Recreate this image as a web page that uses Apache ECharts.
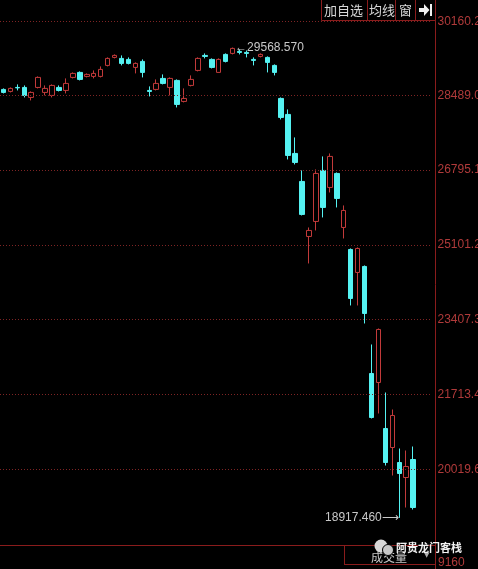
<!DOCTYPE html>
<html><head><meta charset="utf-8">
<script src="https://cdn.jsdelivr.net/npm/echarts@6/dist/echarts.min.js"></script>
<style>html,body{margin:0;padding:0;background:#000;}#c{width:478px;height:569px;}</style>
</head><body><div id="c"></div>
<script>
const dates = ['2019-12-24','2019-12-26','2019-12-27','2019-12-30','2019-12-31','2020-01-02','2020-01-03','2020-01-06','2020-01-07','2020-01-08',
 '2020-01-09','2020-01-10','2020-01-13','2020-01-14','2020-01-15','2020-01-16','2020-01-17','2020-01-21','2020-01-22','2020-01-23',
 '2020-01-24','2020-01-27','2020-01-28','2020-01-29','2020-01-30','2020-01-31','2020-02-03','2020-02-04','2020-02-05','2020-02-06',
 '2020-02-07','2020-02-10','2020-02-11','2020-02-12','2020-02-13','2020-02-14','2020-02-18','2020-02-19','2020-02-20','2020-02-21',
 '2020-02-24','2020-02-25','2020-02-26','2020-02-27','2020-02-28','2020-03-02','2020-03-03','2020-03-04','2020-03-05','2020-03-06',
 '2020-03-09','2020-03-10','2020-03-11','2020-03-12','2020-03-13','2020-03-16','2020-03-17','2020-03-18','2020-03-19','2020-03-20'];
const openV = [28620.0, 28574.7, 28665.3, 28665.3, 28438.8, 28665.3, 28552.1, 28484.1, 28665.3, 28597.4,
 28891.8, 29005.1, 28914.5, 28914.5, 28914.5, 29163.6, 29344.8, 29322.2, 29299.5, 29118.3,
 29254.2, 28597.4, 28620.0, 28869.2, 28665.3, 28823.9, 28348.2, 28710.6, 29050.4, 29390.1,
 29299.5, 29005.1, 29412.8, 29435.4, 29480.7, 29458.1, 29299.5, 29367.5, 29344.8, 29163.6,
 28416.2, 28053.8, 27170.4, 26536.3, 25290.5, 25630.2, 26785.4, 26400.4, 26717.4, 25494.3,
 24996.0, 24475.1, 24611.0, 22187.4, 21983.6, 20941.7, 20511.3, 20171.6, 19831.9, 20239.5];
const closeV = [28552.1, 28642.7, 28655.0, 28484.1, 28552.1, 28891.8, 28642.7, 28710.6, 28597.4, 28755.9,
 28982.4, 28846.5, 28959.8, 28982.4, 29073.0, 29322.2, 29390.1, 29208.9, 29208.9, 29208.9,
 29005.1, 28574.7, 28755.9, 28755.9, 28869.2, 28280.3, 28416.2, 28846.5, 29322.2, 29367.5,
 29118.3, 29299.5, 29254.2, 29548.7, 29458.1, 29435.4, 29276.9, 29412.8, 29231.6, 29005.1,
 27985.8, 27125.1, 26966.6, 25788.8, 25426.4, 26717.4, 25947.3, 27102.5, 26151.2, 25879.4,
 23886.2, 25018.7, 23546.4, 21190.8, 23184.0, 20171.6, 21236.1, 19922.5, 20081.0, 19152.3];
const lowV = [28529.4, 28552.1, 28597.4, 28438.8, 28370.9, 28642.7, 28484.1, 28438.8, 28574.7, 28529.4,
 28869.2, 28823.9, 28891.8, 28869.2, 28891.8, 29141.0, 29322.2, 29163.6, 29186.3, 28982.4,
 28891.8, 28461.5, 28597.4, 28733.3, 28484.1, 28212.3, 28325.6, 28688.0, 29027.7, 29322.2,
 29095.7, 29005.1, 29231.6, 29412.8, 29412.8, 29344.8, 29163.6, 29344.8, 29005.1, 28937.1,
 27940.5, 27034.5, 26921.3, 25766.0, 24678.9, 25426.4, 25720.8, 26287.1, 25947.3, 25245.2,
 23727.6, 23727.6, 23319.9, 21168.2, 21281.4, 20103.6, 19877.1, 18917.46, 19152.3, 19107.0];
const highV = [28642.7, 28665.3, 28733.3, 28710.6, 28574.7, 28914.5, 28710.6, 28733.3, 28710.6, 28869.2,
 29005.1, 29027.7, 28982.4, 29050.4, 29141.0, 29344.8, 29412.8, 29390.1, 29344.8, 29231.6,
 29299.5, 28688.0, 28846.5, 28959.8, 28891.8, 28846.5, 28642.7, 28937.1, 29344.8, 29435.4,
 29322.2, 29322.2, 29435.4, 29568.57, 29526.0, 29503.4, 29344.8, 29435.4, 29367.5, 29186.3,
 28438.8, 28167.0, 27532.8, 26785.4, 25494.3, 26808.1, 27102.5, 27170.4, 26740.0, 25992.6,
 25018.7, 25041.3, 24633.6, 22844.3, 23206.7, 21757.1, 21372.0, 20488.7, 20443.4, 20534.0];
const tickValues = [30160.2, 28489.0, 26795.1, 25101.2, 23407.3, 21713.4, 20019.6];
const tickLabels = ['30160.2','28489.0','26795.1','25101.2','23407.3','21713.4','20019.6'];
const volumeLabel = '9160';
const buttons = ['加自选', '均线', '窗'];

const candles = dates.map((d, i) => [openV[i], closeV[i], lowV[i], highV[i]]);
const cats = dates.concat([' ', '  ']);
const RED = '#c23a3a', CYAN = '#55f2f2', GRID = '#7e2424', AXIS = '#8a1c1c';
const FONT = 'Liberation Sans, Arial, sans-serif';

const chart = echarts.init(document.getElementById('c'), null, {renderer: 'canvas'});
chart.setOption({
  backgroundColor: '#000',
  animation: false,
  grid: {left: -2.49, right: 47.5, top: 0, bottom: 24},
  xAxis: {type: 'category', data: cats, boundaryGap: true,
    axisLine: {show: false}, axisTick: {show: false}, axisLabel: {show: false}, splitLine: {show: false}},
  yAxis: {type: 'value', min: 18303.5, max: 30645, position: 'right',
    axisLine: {show: false}, axisTick: {show: false}, axisLabel: {show: false}, splitLine: {show: false}},
  series: [{
    type: 'candlestick',
    data: candles,
    barWidth: 5,
    itemStyle: {color: '#000', color0: CYAN, borderColor: RED, borderColor0: CYAN, borderWidth: 1},
    markLine: {
      silent: true, symbol: ['none', 'none'], animation: false,
      lineStyle: {color: GRID, type: [1, 2], width: 1},
      label: {show: true, position: 'end', distance: 7, color: '#b03a3a', fontSize: 12, fontFamily: FONT},
      emphasis: {disabled: true},
      data: tickValues.map((v, k) => ({yAxis: v, label: {formatter: tickLabels[k]}}))
    },
    markPoint: {
      silent: true, symbol: 'circle', symbolSize: 1, itemStyle: {color: 'rgba(0,0,0,0)'},
      label: {show: true, color: '#c8c8c8', fontSize: 12, fontFamily: FONT},
      data: [
        {type: 'max', valueDim: 'highest', label: {position: 'right', distance: 2, formatter: p => '←' + p.value.toFixed(3)}},
        {type: 'min', valueDim: 'lowest', label: {position: 'left', distance: 0, formatter: p => p.value.toFixed(3) + '⟶'}}
      ]
    }
  }],
  graphic: [
    {type: 'line', shape: {x1: 435.5, y1: 0, x2: 435.5, y2: 569}, style: {stroke: AXIS, lineWidth: 1}, z: 10},
    {type: 'line', shape: {x1: 0, y1: 545.5, x2: 435, y2: 545.5}, style: {stroke: AXIS, lineWidth: 1}, z: 10},
    {type: 'line', shape: {x1: 344.5, y1: 545, x2: 344.5, y2: 565}, style: {stroke: AXIS, lineWidth: 1}, z: 10},
    {type: 'line', shape: {x1: 344, y1: 564.5, x2: 435, y2: 564.5}, style: {stroke: AXIS, lineWidth: 1}, z: 10},
    {type: 'rect', shape: {x: 321.5, y: -1, width: 114, height: 21.5}, style: {fill: '#000', stroke: AXIS, lineWidth: 1}, z: 10},
    {type: 'line', shape: {x1: 367.5, y1: 0, x2: 367.5, y2: 20}, style: {stroke: AXIS, lineWidth: 1}, z: 11},
    {type: 'line', shape: {x1: 395.5, y1: 0, x2: 395.5, y2: 20}, style: {stroke: AXIS, lineWidth: 1}, z: 11},
    {type: 'line', shape: {x1: 415.5, y1: 0, x2: 415.5, y2: 20}, style: {stroke: AXIS, lineWidth: 1}, z: 11},
    {type: 'text', x: 324, y: 10, style: {text: buttons[0], fill: '#d8d8d8', fontSize: 13, fontFamily: 'Noto Sans CJK SC', verticalAlign: 'middle'}, z: 12},
    {type: 'text', x: 369, y: 10, style: {text: buttons[1], fill: '#d8d8d8', fontSize: 13, fontFamily: 'Noto Sans CJK SC', verticalAlign: 'middle'}, z: 12},
    {type: 'text', x: 399, y: 10, style: {text: buttons[2], fill: '#d8d8d8', fontSize: 13, fontFamily: 'Noto Sans CJK SC', verticalAlign: 'middle'}, z: 12},
    {type: 'polygon', shape: {points: [[419, 8], [424, 8], [424, 4], [429.5, 10], [424, 16], [424, 12], [419, 12]]}, style: {fill: '#f0f0f0'}, z: 12},
    {type: 'rect', shape: {x: 430, y: 4, width: 2, height: 12}, style: {fill: '#f0f0f0'}, z: 12},
    {type: 'text', x: 438, y: 563, style: {text: volumeLabel, fill: '#b03a3a', fontSize: 12, fontFamily: FONT, verticalAlign: 'middle'}, z: 12},
    {type: 'text', x: 371, y: 557, style: {text: '成交量', fill: '#c8c8c8', fontSize: 12, fontFamily: 'Noto Sans CJK SC', verticalAlign: 'middle'}, z: 12},
    {type: 'text', x: 424, y: 555, style: {text: '▼', fill: '#b0b0b0', fontSize: 7, fontFamily: 'DejaVu Sans', verticalAlign: 'middle'}, z: 12},
    {type: 'circle', shape: {cx: 381, cy: 546, r: 6.5}, style: {fill: '#d8d8d8'}, z: 13},
    {type: 'circle', shape: {cx: 388, cy: 550, r: 5.5}, style: {fill: '#c8c8c8', stroke: '#000', lineWidth: 1}, z: 13},
    {type: 'text', x: 396, y: 548, style: {text: '阿贵龙门客栈', fill: '#f2f2f2', fontSize: 11, fontWeight: 'bold', fontFamily: 'Noto Sans CJK SC', verticalAlign: 'middle'}, z: 13}
  ]
});
</script>
</body></html>
